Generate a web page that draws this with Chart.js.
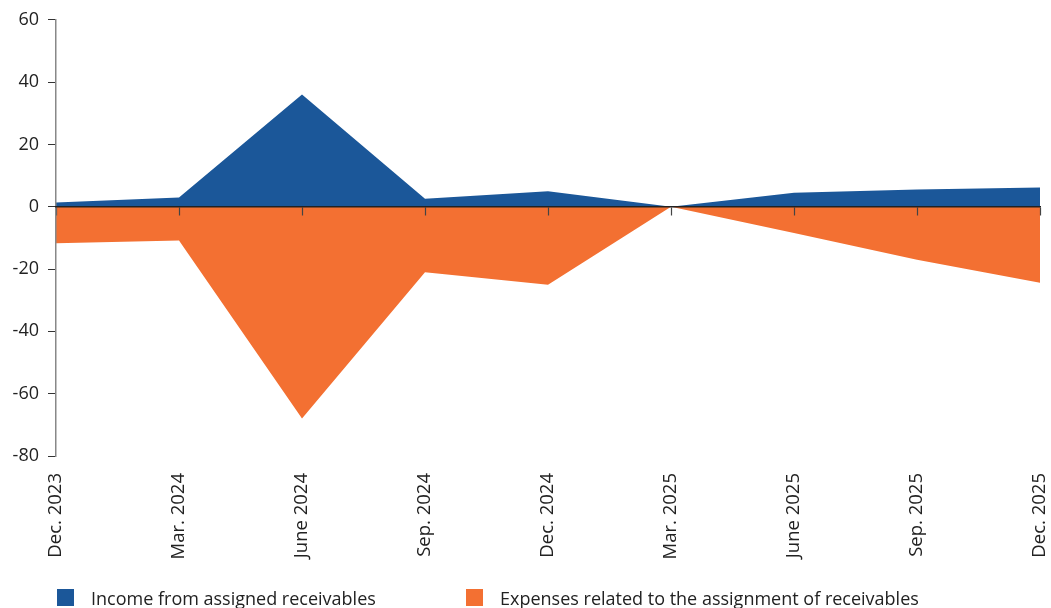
<!DOCTYPE html>
<html>
<head>
<meta charset="utf-8">
<script src="https://cdn.jsdelivr.net/npm/chart.js@4.4.1/dist/chart.umd.min.js"></script>
<style>
  html, body { margin: 0; padding: 0; background: #fff; overflow: hidden; }
  #wrap { position: relative; width: 1051px; height: 608px; }
  #legend { position: absolute; left: 0; top: 588px; font-family: "Open Sans", sans-serif; font-size: 18px; color: #222; white-space: nowrap; }
  .item { position: absolute; top: 0; height: 20px; line-height: 20px; }
  .sw { position: absolute; top: 1px; width: 17px; height: 17px; }
  .tx { position: absolute; top: 0; }
</style>
</head>
<body>
<div id="wrap">
  <canvas id="c" width="1051" height="608"></canvas>
  <div id="legend"></div>
</div>
<script>
const categories = ["Dec. 2023", "Mar. 2024", "June 2024", "Sep. 2024", "Dec. 2024", "Mar. 2025", "June 2025", "Sep. 2025", "Dec. 2025"];
const incomeValues = [1.4, 3.0, 36.0, 2.6, 5.0, 0.0, 4.5, 5.5, 6.2];
const expenseValues = [-11.7, -10.8, -68.0, -21.0, -25.0, 0.0, -8.4, -17.0, -24.4];
const seriesNames = ["Income from assigned receivables", "Expenses related to the assignment of receivables"];
const yTicks = [60, 40, 20, 0, -20, -40, -60, -80];

const BLUE = "#1b5799";
const ORANGE = "#f37032";
const FONT = "'Open Sans', sans-serif";

new Chart(document.getElementById("c"), {
  type: "line",
  data: {
    labels: categories,
    datasets: [
      { label: seriesNames[0], data: incomeValues, backgroundColor: BLUE, borderColor: BLUE, borderWidth: 0, pointRadius: 0, fill: "origin", tension: 0 },
      { label: seriesNames[1], data: expenseValues, backgroundColor: ORANGE, borderColor: ORANGE, borderWidth: 0, pointRadius: 0, fill: "origin", tension: 0 }
    ]
  },
  options: {
    responsive: false,
    animation: false,
    layout: { padding: { top: 19, right: 11, left: 0, bottom: 0 } },
    plugins: { legend: { display: false }, tooltip: { enabled: false } },
    scales: {
      x: {
        type: "category",
        offset: false,
        grid: { display: false, drawTicks: false },
        border: { display: false },
        ticks: { maxRotation: 90, minRotation: 90, padding: 17, color: "#222", font: { family: FONT, size: 18.5 }, autoSkip: false },
        afterFit: (s) => { s.height = 152; s.paddingLeft = 0; s.paddingRight = 0; }
      },
      x2: {
        type: "category",
        offset: false,
        position: { y: 0 },
        grid: { drawOnChartArea: false, drawTicks: true, tickLength: 8, color: "#444", tickWidth: 1.2, z: 1 },
        border: { display: true, color: "#222", width: 1.5, z: 2 },
        ticks: { display: false },
        afterFit: (s) => { s.paddingLeft = 0; s.paddingRight = 0; }
      },
      y: {
        min: -80, max: 60,
        afterBuildTicks: (s) => { s.ticks = yTicks.map(v => ({ value: v })); },
        grid: { drawOnChartArea: false, drawTicks: true, tickLength: 8, color: "#333", z: 1 },
        border: { display: true, color: "#888", width: 1.5, z: 1 },
        ticks: { padding: 9, color: "#222", font: { family: FONT, size: 18 } },
        afterFit: (s) => { s.width = 56; }
      }
    }
  }
});

const legend = document.getElementById("legend");
const items = [
  { name: seriesNames[0], color: BLUE, sx: 57, tx: 91 },
  { name: seriesNames[1], color: ORANGE, sx: 466, tx: 500 }
];
items.forEach(it => {
  const d = document.createElement("div");
  d.className = "item";
  d.innerHTML = '<span class="sw" style="left:' + it.sx + 'px;background:' + it.color + '"></span><span class="tx" style="left:' + it.tx + 'px">' + it.name + '</span>';
  legend.appendChild(d);
});
</script>
</body>
</html>
